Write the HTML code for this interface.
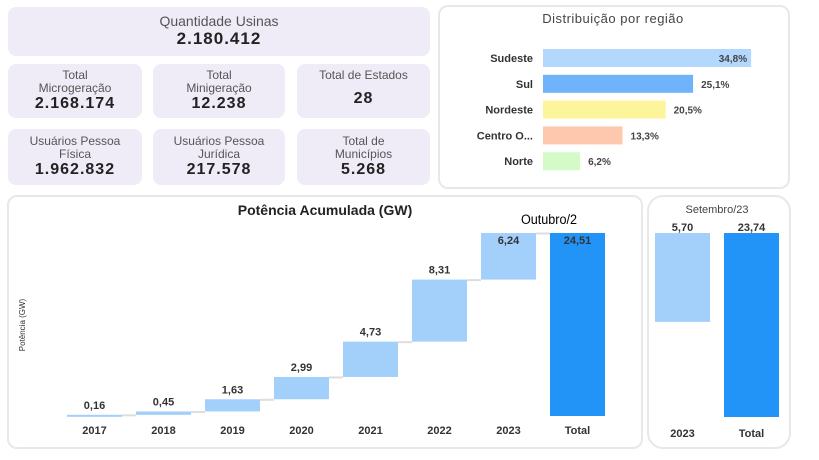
<!DOCTYPE html>
<html><head><meta charset="utf-8"><style>
body{margin:0;width:819px;height:460px;background:#fff;font-family:"Liberation Sans",sans-serif;position:relative;overflow:hidden}
.card{position:absolute;background:#efecf8;border-radius:8px;text-align:center;color:#555}
.card .t{font-size:12px;line-height:13px}
.card .v{font-size:16px;font-weight:bold;color:#222;letter-spacing:1px}
.panel{position:absolute;border:2px solid #e8e8e8;border-radius:10px;background:#fff}
</style></head><body>
<div class="card" style="left:8px;top:7px;width:422px;height:49px">
<div class="t" style="font-size:14px;padding-top:6px;line-height:16px">Quantidade Usinas</div><div class="v" style="font-size:17px">2.180.412</div></div>
<div class="card" style="left:8px;top:64px;width:134px;height:54px"><div class="t" style="padding-top:5px">Total<br>Microgeração</div><div class="v">2.168.174</div></div>
<div class="card" style="left:153px;top:64px;width:132px;height:54px"><div class="t" style="padding-top:5px">Total<br>Minigeração</div><div class="v">12.238</div></div>
<div class="card" style="left:297px;top:64px;width:133px;height:54px"><div class="t" style="padding-top:5px">Total de Estados</div><div class="v" style="padding-top:8px">28</div></div>
<div class="card" style="left:8px;top:129px;width:134px;height:56px"><div class="t" style="padding-top:6px">Usuários Pessoa<br>Física</div><div class="v">1.962.832</div></div>
<div class="card" style="left:153px;top:129px;width:132px;height:56px"><div class="t" style="padding-top:6px">Usuários Pessoa<br>Jurídica</div><div class="v">217.578</div></div>
<div class="card" style="left:297px;top:129px;width:133px;height:56px"><div class="t" style="padding-top:6px">Total de<br>Municípios</div><div class="v">5.268</div></div>

<div class="panel" style="left:438px;top:5px;width:348px;height:180px"></div>
<div class="panel" style="left:7px;top:195px;width:632px;height:250px"></div>
<div class="panel" style="left:647px;top:195px;width:140px;height:250px;border-radius:16px"></div>

<svg width="819" height="460" style="position:absolute;left:0;top:0" font-family="Liberation Sans, sans-serif">
<text x="613" y="23" text-anchor="middle" font-size="13" fill="#444" letter-spacing="0.5">Distribuição por região</text>
<g id="reg"></g>
<text x="325" y="215" text-anchor="middle" font-size="14" font-weight="bold" fill="#222">Potência Acumulada (GW)</text>
<text x="549" y="224" text-anchor="middle" font-size="14" fill="#000" transform="translate(549 0) scale(0.9 1) translate(-549 0)">Outubro/2</text>
<text x="25" y="325" font-size="8" fill="#333" transform="rotate(-90 25 325)" text-anchor="middle">Potência (GW)</text>
<g id="wf"></g>
<text x="717" y="213" text-anchor="middle" font-size="11" fill="#444">Setembro/23</text>
<g id="sep"></g>
</svg>
<script>
const regions=["Sudeste","Sul","Nordeste","Centro O...","Norte"];
const regionValues=[34.8,25.1,20.5,13.3,6.2];
const regionLabels=["34,8%","25,1%","20,5%","13,3%","6,2%"];
const regionColors=["#b3d7fd","#6fb4fb","#fdf59c","#fdc8ad","#d4fbc7"];
const years=["2017","2018","2019","2020","2021","2022","2023","Total"];
const increments=[0.16,0.45,1.63,2.99,4.73,8.31,6.24];
const incLabels=["0,16","0,45","1,63","2,99","4,73","8,31","6,24","24,51"];
const total=24.51;
const sepCats=["2023","Total"];
const sepValues=[5.70,23.74];
const sepLabels=["5,70","23,74"];
const sepMin=11.94;
const NS="http://www.w3.org/2000/svg";
function mk(tag,attrs,parent,txt){const e=document.createElementNS(NS,tag);for(const k in attrs)e.setAttribute(k,attrs[k]);if(txt!==undefined)e.textContent=txt;parent.appendChild(e);return e;}
const rg=document.getElementById('reg');
const rx=v=>543+v*5.98;
regions.forEach((r,i)=>{const cy=58+i*25.8;
const l=mk('text',{x:533,y:cy+4,'text-anchor':'end','font-size':11,'font-weight':'bold',fill:'#333'},rg,r);


const b=mk('rect',{x:543,y:cy-9,width:rx(regionValues[i])-543,height:18,fill:regionColors[i]},rg);


const inside=i===0;
const t=mk('text',{x:inside?rx(regionValues[i])-4:rx(regionValues[i])+8,y:cy+4,'text-anchor':inside?'end':'start','font-size':10,'font-weight':'bold',fill:'#444'},rg,regionLabels[i]);


});
const wf=document.getElementById('wf');
const base=416,scale=183/total;const y=v=>base-v*scale;
const xs=i=>67+i*69;
let cum=0;
years.forEach((yr,i)=>{let y0,y1,col;
if(i<increments.length){y0=cum;y1=cum+increments[i];cum=y1;col="#a3cffb";}else{y0=0;y1=total;col="#2394f7";}
const top=y(y1),h=Math.max(2,y(y0)-y(y1));
const b=mk('rect',{x:xs(i),y:top,width:55,height:h,fill:col},wf);


if(i<increments.length){const c=mk('line',{x1:xs(i)+55,x2:xs(i+1),y1:top+0.5,y2:top+0.5,stroke:'#ddd','stroke-width':2},wf);

}
const t=mk('text',{x:xs(i)+27.5,y:i>=6?top+11:top-6,'text-anchor':'middle','font-size':11,'font-weight':'bold',fill:'#333'},wf,incLabels[i]);


const a=mk('text',{x:xs(i)+27.5,y:434,'text-anchor':'middle','font-size':11,'font-weight':'bold',fill:'#333'},wf,yr);


});
const sp=document.getElementById('sep');
const sb=417,stop=233,sy=v=>sb-(v-sepMin)*(sb-stop)/(sepValues[1]-sepMin);
sepCats.forEach((c,i)=>{const x=655+i*69;let y0,y1,col;
if(i===0){y1=sepValues[1];y0=sepValues[1]-sepValues[0];col="#a3cffb";}else{y1=sepValues[1];y0=sepMin;col="#2394f7";}
const b=mk('rect',{x:x,y:sy(y1),width:55,height:sy(y0)-sy(y1),fill:col},sp);


const t=mk('text',{x:x+27.5,y:sy(y1)-2,'text-anchor':'middle','font-size':11,'font-weight':'bold',fill:'#333'},sp,sepLabels[i]);


const a=mk('text',{x:x+27.5,y:437,'text-anchor':'middle','font-size':11,'font-weight':'bold',fill:'#333'},sp,c);


});
</script>
</body></html>
